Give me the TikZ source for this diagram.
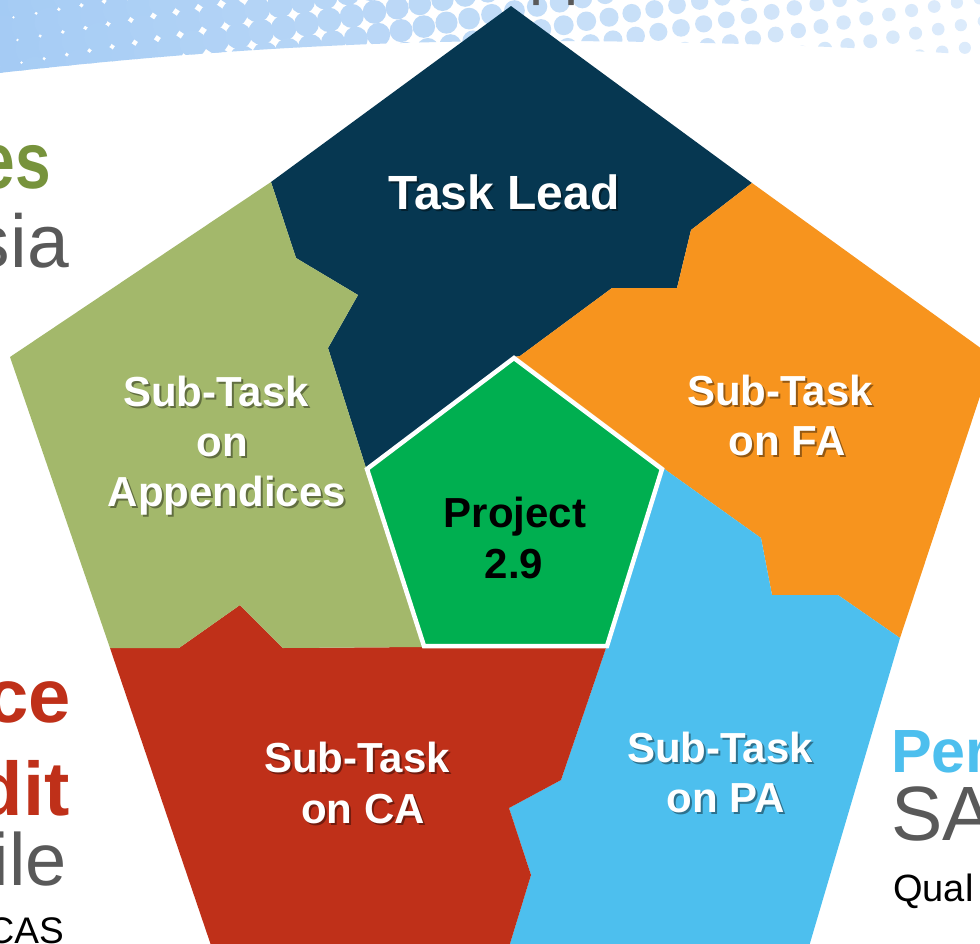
\documentclass[tikz,border=0pt]{standalone}
\usepackage{fontspec}
\setmainfont{Liberation Sans}
\definecolor{navyseg}{HTML}{063751}
\definecolor{orangeseg}{HTML}{F7941E}
\definecolor{blueseg}{HTML}{4DBFEE}
\definecolor{redseg}{HTML}{BF3019}
\definecolor{oliveseg}{HTML}{A3B86B}
\definecolor{centergreen}{HTML}{00AF50}
\definecolor{olivetext}{HTML}{77933C}
\definecolor{graytext}{HTML}{595959}
\definecolor{dotblue}{HTML}{A4CBF4}
\newcommand\shline[4][]{%
  \node[lblshadow,#1] at #3 {#4};
  \node[lbl,#1] (#2) at #3 {#4};}
\begin{document}
\begin{tikzpicture}[x=1pt,y=-1pt,
  lbl/.style={text=white, font=\bfseries\fontsize{42}{50}\selectfont, anchor=base, inner sep=0pt},
  lblshadow/.style={text=black, text opacity=0.4, font=\bfseries\fontsize{42}{50}\selectfont, anchor=base, inner sep=0pt, xshift=2pt, yshift=-2pt},
  centertxt/.style={text=black, font=\bfseries\fontsize{42}{50}\selectfont, anchor=base, inner sep=0pt},
  bgtxt/.style={inner sep=0pt}
]
\useasboundingbox (0,0) rectangle (980,943);
\clip (0,0) rectangle (980,943);
\fill[white] (0,0) rectangle (980,943);

% halftone dotted band
\begin{scope}
\clip (-10,-20) -- (990,-20) -- (990,56) .. controls (880,48) and (740,42) .. (560,41) .. controls (380,40) and (200,50) .. (-10,74) -- cycle;
\foreach \i in {-4,...,45} {
  \foreach \j in {-2,...,13} {
    \pgfmathsetmacro\cx{23*(0.985*\i + 0.174*\j)}
    \pgfmathsetmacro\cy{23*(-0.174*\i + 0.985*\j) + 8}
    \pgfmathtruncatemacro\inside{(\cy > -20) && (\cy < 95) && (\cx > -20) && (\cx < 1000)}
    \ifnum\inside=1
      \pgfmathsetmacro\fr{max(0,\cx/980)}
      \pgfmathsetmacro\rr{max(4, 15.4 - 9.5*\fr)}
      \pgfmathtruncatemacro\pct{max(30, 100 - 62*\fr)}
      \fill[dotblue!\pct!white] (\cx,\cy) circle[radius=\rr pt];
    \fi
  }
}
\end{scope}

% background slide texts (cropped)
\node[bgtxt, anchor=base west, text=graytext, font=\fontsize{63}{63}\selectfont] (toptxt) at (529,-8) {pp};
\node[bgtxt, anchor=base east, text=olivetext, font=\bfseries\fontsize{80}{80}\selectfont] (es) at (51,188) {\scalebox{0.8}[1]{es}};
\node[bgtxt, anchor=base east, text=graytext, font=\fontsize{75}{75}\selectfont] (sia) at (69,267) {sia};
\node[bgtxt, anchor=base east, text=redseg, font=\bfseries\fontsize{76}{76}\selectfont] (ce) at (71,722) {ce};
\node[bgtxt, anchor=base east, text=redseg, font=\bfseries\fontsize{76}{76}\selectfont] (dit) at (70,815) {dit};
\node[bgtxt, anchor=base east, text=graytext, font=\fontsize{74}{74}\selectfont] (ile) at (67,885) {ile};
\node[bgtxt, anchor=base east, text=black, font=\fontsize{37}{37}\selectfont] (cas) at (64,943) {CAS};
\node[bgtxt, anchor=base west, text=blueseg, font=\bfseries\fontsize{61}{61}\selectfont] (per) at (891,772) {Per};
\node[bgtxt, anchor=base west, text=graytext, font=\fontsize{77}{77}\selectfont] (sa) at (891,840) {SA};
\node[bgtxt, anchor=base west, text=black, font=\fontsize{38}{38}\selectfont] (qual) at (893,901) {Qual};

% segments
\fill[navyseg] (511,6) -- (752,183) -- (691,230) -- (677,288) -- (612,288) -- (520,356)
  -- (514,357) -- (366,468) -- (328,348) -- (358,295) -- (296,258) -- (271,182) -- cycle;
\fill[orangeseg] (752,183) -- (993,357) -- (900,638) -- (838,595) -- (772,595) -- (761,538)
  -- (663,468) -- (514,357) -- (520,356) -- (612,288) -- (677,288) -- (691,230) -- cycle;
\fill[blueseg] (663,468) -- (761,538) -- (772,595) -- (838,595) -- (900,638) -- (805,960)
  -- (505,960) -- (531,875) -- (509,808) -- (561,780) -- (606,648) -- (608,647) -- cycle;
\fill[redseg] (110,648) -- (179,648) -- (240,605) -- (283,648) -- (423,647) -- (608,647)
  -- (606,648) -- (561,780) -- (509,808) -- (531,875) -- (505,960) -- (216,960) -- cycle;
\fill[oliveseg] (271,182) -- (296,258) -- (358,295) -- (328,348) -- (366,468) -- (423,647)
  -- (283,648) -- (240,605) -- (179,648) -- (110,648) -- (10,357) -- cycle;

% centre pentagon
\draw[white, line width=4.5pt, fill=centergreen, line join=miter]
  (514,358) -- (662,469) -- (607,646) -- (424,646) -- (367,469) -- cycle;

% labels
\shline[font=\bfseries\fontsize{48}{56}\selectfont]{lead}{(504,209)}{Task Lead}
\shline{app1}{(216,406)}{Sub-Task}
\shline{app2}{(222,456)}{on}
\shline{app3}{(227,506)}{Appendices}
\shline{fa1}{(780,405)}{Sub-Task}
\shline{fa2}{(787,455)}{on FA}
\shline{pa1}{(720,762)}{Sub-Task}
\shline{pa2}{(726,812)}{on PA}
\shline{ca1}{(357,772)}{Sub-Task}
\shline{ca2}{(363,823)}{on CA}
\node[centertxt] (proj1) at (515,527) {Project};
\node[centertxt] (proj2) at (514,578) {2.9};
\end{tikzpicture}
\end{document}
